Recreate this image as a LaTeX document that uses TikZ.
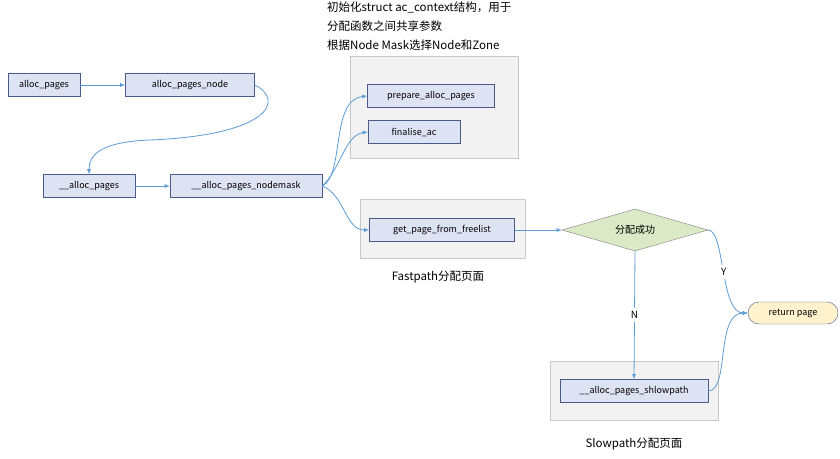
\documentclass[tikz,border=0pt]{standalone}
\usepackage{fontspec}
\setmainfont{Noto Sans CJK SC}
\usetikzlibrary{shapes.geometric}
\definecolor{boxfill}{HTML}{DDE3F3}
\definecolor{boxdraw}{HTML}{4A5B8A}
\definecolor{arrow}{HTML}{5B9BD5}
\definecolor{grayfill}{HTML}{F2F2F2}
\definecolor{graydraw}{HTML}{C8C8C8}
\definecolor{decfill}{HTML}{DBE9C6}
\definecolor{retfill}{HTML}{FFF2CC}
\tikzset{
  func/.style={draw=boxdraw,fill=boxfill,minimum height=23pt,inner xsep=4pt,font=\fontsize{9}{10}\selectfont},
  group/.style={draw=graydraw,fill=grayfill},
  flow/.style={->,>=latex,draw=arrow,thick},
  note/.style={font=\fontsize{11.5}{19}\selectfont,align=left}
}
\begin{document}
\begin{tikzpicture}[x=1pt,y=-1pt]
\useasboundingbox (0,0) rectangle (840,458);
% background groups
\draw[group] (350,56) rectangle (518,158);
\draw[group] (360,199) rectangle (525,258);
\draw[group] (550,361) rectangle (718,420);
% functions
\node[func,minimum width=72pt] (alloc) at (44,85) {alloc\_pages};
\node[func,minimum width=129pt] (node) at (190,85) {alloc\_pages\_node};
\node[func,minimum width=92pt] (alloc2) at (89,186) {\_\_alloc\_pages};
\node[func,minimum width=152pt] (mask) at (246,186) {\_\_alloc\_pages\_nodemask};
\node[func,minimum width=127pt] (prep) at (431,96) {prepare\_alloc\_pages};
\node[func,minimum width=92pt] (fin) at (414,132) {finalise\_ac};
\node[func,minimum width=145pt] (fast) at (442,230) {get\_page\_from\_freelist};
\node[draw=gray,fill=decfill,diamond,aspect=3.6,minimum width=146pt,minimum height=42pt,inner sep=0pt,font=\fontsize{10}{11}\selectfont] (ok) at (635,230) {分配成功};
\node[draw=boxdraw,fill=retfill,rounded corners=11pt,minimum width=90pt,minimum height=22pt,font=\fontsize{9}{10}\selectfont] (ret) at (793,313) {return page};
\node[func,minimum width=148pt] (slow) at (634,391) {\_\_alloc\_pages\_shlowpath};
% texts
\node[note,anchor=north west,inner sep=0pt] (info) at (327,2) {初始化struct ac\_context结构，用于\\分配函数之间共享参数\\根据Node Mask选择Node和Zone};
\node[note] (fastlbl) at (438,277) {Fastpath分配页面};
\node[note] (slowlbl) at (634,444) {Slowpath分配页面};
% connectors
\draw[flow] (alloc) -- (node);
\draw[flow] (node.east) .. controls (285,100) and (270,135) .. (150,140) .. controls (100,142) and (89,155) .. (alloc2.north);
\draw[flow] (alloc2) -- (mask);
\draw[flow] (mask.east) .. controls (345,175) and (330,100) .. (prep.west);
\draw[flow] (mask.east) .. controls (340,170) and (345,135) .. (fin.west);
\draw[flow] (mask.east) .. controls (345,195) and (345,230) .. (fast.west);
\draw[flow] (fast) -- (ok);
\draw[flow] (ok.south) -- node[fill=white,font=\fontsize{10}{11}\selectfont] {N} (slow.north);
\draw[flow] (ok.east) .. controls (725,230) and (720,313) .. node[pos=0.5,fill=white,font=\fontsize{10}{11}\selectfont] {Y} (ret.west);
\draw[flow] (slow.east) .. controls (730,391) and (715,313) .. (ret.west);
\end{tikzpicture}
\end{document}
